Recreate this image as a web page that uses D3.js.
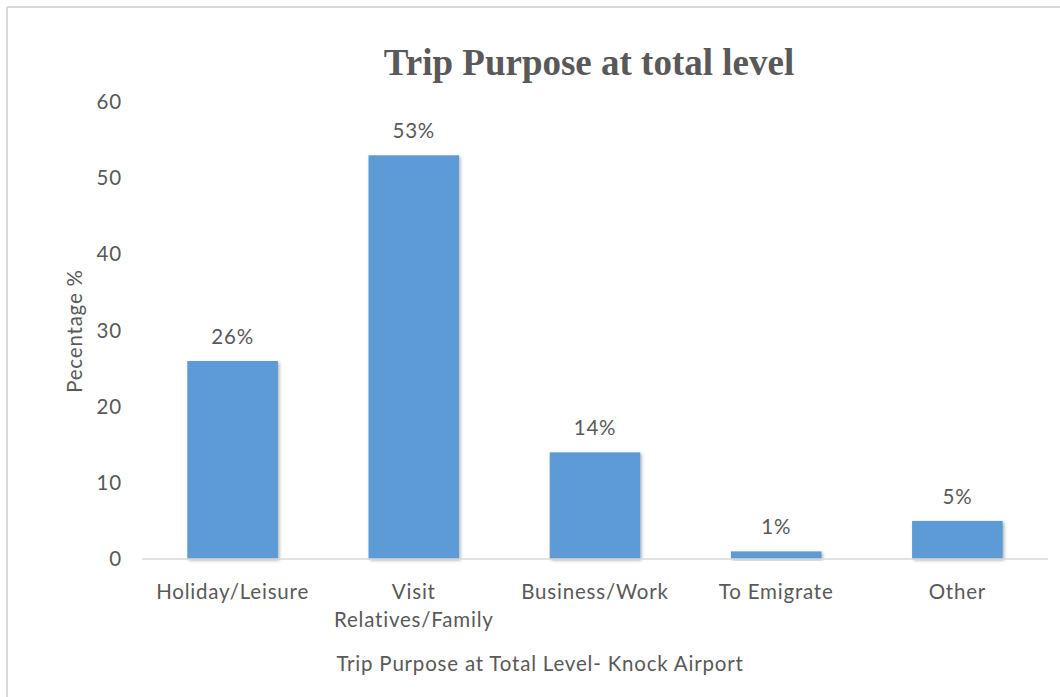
<!DOCTYPE html>
<html>
<head>
<meta charset="utf-8">
<script src="https://cdn.jsdelivr.net/npm/d3@7"></script>
<style>
  html, body { margin: 0; padding: 0; background: #fff; }
  svg { display: block; }
</style>
</head>
<body>
<svg id="chart" width="1060" height="697"></svg>
<script>
// Trip purpose shares (percent), total level
const categories = ["Holiday/Leisure", "Visit Relatives/Family", "Business/Work", "To Emigrate", "Other"];
const categoryLines = [["Holiday/Leisure"], ["Visit", "Relatives/Family"], ["Business/Work"], ["To Emigrate"], ["Other"]];
const values = [26, 53, 14, 1, 5];
const valueLabels = ["26%", "53%", "14%", "1%", "5%"];
const yTicks = [0, 10, 20, 30, 40, 50, 60];

const svg = d3.select("#chart");
const W = 1060, H = 697;
const margin = { top: 102, right: 12, bottom: 138, left: 142 };
const innerW = W - margin.left - margin.right;
const innerH = H - margin.top - margin.bottom;
const textColor = "#595959";
const labelFont = "Lato, 'Open Sans', sans-serif";
const labelSize = 20.5;
const labelSpacing = 0.8;

// Frame lines along the top and left edges
svg.append("line").attr("x1", 7).attr("x2", W).attr("y1", 7).attr("y2", 7)
  .attr("stroke", "#d9d9d9").attr("stroke-width", 2);
svg.append("line").attr("x1", 7).attr("x2", 7).attr("y1", 7).attr("y2", H)
  .attr("stroke", "#d9d9d9").attr("stroke-width", 2);

const defs = svg.append("defs");
const shadow = defs.append("filter").attr("id", "barShadow")
  .attr("x", "-20%").attr("y", "-20%").attr("width", "140%").attr("height", "140%");
shadow.append("feDropShadow").attr("dx", 1.5).attr("dy", 1.5).attr("stdDeviation", 1.5)
  .attr("flood-color", "#000").attr("flood-opacity", 0.3);

const g = svg.append("g").attr("transform", `translate(${margin.left},${margin.top})`);

const x = d3.scaleBand().domain(categories).range([0, innerW]).paddingInner(0.5).paddingOuter(0.25);
const y = d3.scaleLinear().domain([0, 60]).range([innerH, 0]);

function labelStyle(sel) {
  return sel.attr("font-family", labelFont).attr("font-size", labelSize)
    .attr("letter-spacing", labelSpacing).attr("fill", textColor);
}

// Title
svg.append("text")
  .attr("x", 589).attr("y", 75)
  .attr("text-anchor", "middle")
  .attr("font-family", "'Liberation Serif', 'Times New Roman', serif")
  .attr("font-weight", "bold")
  .attr("font-size", 37)
  .attr("fill", textColor)
  .text("Trip Purpose at total level");

// Y axis (labels only)
const yAxis = g.append("g").call(d3.axisLeft(y).tickValues(yTicks).tickSize(0).tickPadding(20));
yAxis.select(".domain").remove();
yAxis.selectAll("text").call(labelStyle);

// Bars
g.selectAll("rect.bar").data(values).join("rect")
  .attr("class", "bar")
  .attr("x", (d, i) => x(categories[i]))
  .attr("y", d => y(d))
  .attr("width", x.bandwidth())
  .attr("height", d => innerH - y(d))
  .attr("fill", "#5b9bd5")
  .attr("filter", "url(#barShadow)");

// Baseline
g.append("line").attr("x1", 0).attr("x2", innerW).attr("y1", innerH).attr("y2", innerH)
  .attr("stroke", "#d9d9d9").attr("stroke-width", 1.5);

// Value labels
g.selectAll("text.val").data(values).join("text")
  .attr("class", "val")
  .attr("x", (d, i) => x(categories[i]) + x.bandwidth() / 2)
  .attr("y", d => y(d) - 17)
  .attr("text-anchor", "middle")
  .call(labelStyle)
  .text((d, i) => valueLabels[i]);

// Category labels
const xl = g.selectAll("text.cat").data(categories).join("text")
  .attr("class", "cat")
  .attr("x", d => x(d) + x.bandwidth() / 2)
  .attr("y", innerH + 40)
  .attr("text-anchor", "middle")
  .call(labelStyle);
xl.each(function (d, i) {
  d3.select(this).selectAll("tspan").data(categoryLines[i]).join("tspan")
    .attr("x", x(d) + x.bandwidth() / 2)
    .attr("dy", (t, j) => j === 0 ? 0 : 28)
    .text(t => t);
});

// Axis titles
svg.append("text")
  .attr("x", 540).attr("y", 671)
  .attr("text-anchor", "middle")
  .call(labelStyle)
  .text("Trip Purpose at Total Level- Knock Airport");

svg.append("text")
  .attr("transform", "translate(82,331) rotate(-90)")
  .attr("text-anchor", "middle")
  .call(labelStyle)
  .text("Pecentage %");
</script>
</body>
</html>
